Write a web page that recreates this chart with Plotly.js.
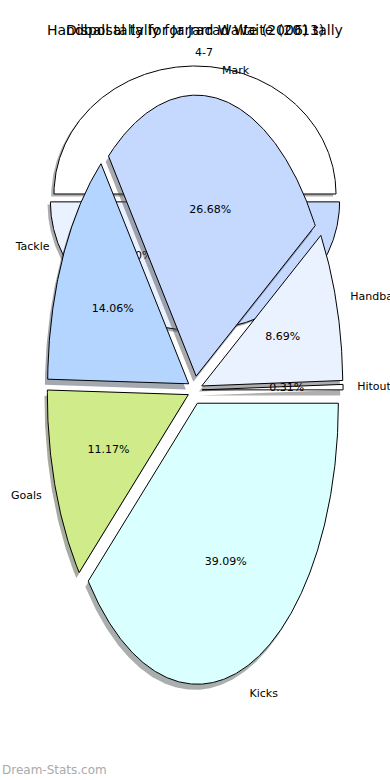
<!DOCTYPE html>
<html><head><meta charset="utf-8">
<script src="https://cdn.plot.ly/plotly-3.0.1.min.js"></script>
<style>html,body{margin:0;padding:0;background:#fff}</style>
</head><body><div id="chart" style="width:390px;height:780px"></div>
<script>
// ---- data ----
const titleHandball = "Handball tally for Jarrad Waite (2006) tally";
const titleDisposal = "Disposal tally for Jarrad Waite (2013)";
const tallyLabels = ["4-7", "0-3", "8-11"];
const tallyShares = [50, 25, 25];
const statLabels = ["Hitout", "Handball", "Mark", "Tackle", "Goals", "Kicks"];
const statShares = [0.31, 8.69, 26.68, 14.06, 11.17, 39.09];
const palette = ["#ffffff", "#eaf1ff", "#c5d9ff", "#b3d5ff", "#d0eb8a", "#d9ffff"];

// ---- helpers ----
function shade(hex) {
  const r = parseInt(hex.slice(1,3),16), g = parseInt(hex.slice(3,5),16), b = parseInt(hex.slice(5,7),16);
  return "rgba(" + Math.round(r*0.3) + "," + Math.round(g*0.3) + "," + Math.round(b*0.3) + ",0.45)";
}
function buildPie(labels, values, explode, xa, ya) {
  const total = values.reduce((a,b)=>a+b,0);
  const shadows = [], wedges = [];
  const pctX=[], pctY=[], pctT=[], labX=[], labY=[], labT=[], labPos=[];
  let t1 = 0;
  values.forEach((v,i)=>{
    const t2 = t1 + 360*v/total;
    const mid = (t1+t2)/2*Math.PI/180;
    const ox = explode*Math.cos(mid), oy = explode*Math.sin(mid);
    const xs=[ox], ys=[oy];
    const n = Math.max(2, Math.ceil((t2-t1)/0.5));
    for (let k=0;k<=n;k++){
      const a = (t1 + (t2-t1)*k/n)*Math.PI/180;
      xs.push(ox+Math.cos(a)); ys.push(oy+Math.sin(a));
    }
    xs.push(ox); ys.push(oy);
    shadows.push({type:'scatter', mode:'lines', x:xs.map(p=>p-0.02), y:ys.map(p=>p-0.02),
      fill:'toself', fillcolor:shade(palette[i]), line:{width:0, color:'rgba(0,0,0,0)'},
      xaxis:xa, yaxis:ya, hoverinfo:'skip', showlegend:false});
    wedges.push({type:'scatter', mode:'lines', x:xs, y:ys, fill:'toself', fillcolor:palette[i],
      line:{width:1, color:'#000'}, xaxis:xa, yaxis:ya, hoverinfo:'skip', showlegend:false});
    pctX.push(ox+0.6*Math.cos(mid)); pctY.push(oy+0.6*Math.sin(mid));
    pctT.push((100*v/total).toFixed(2)+"%");
    const lx = ox+1.1*Math.cos(mid), ly = oy+1.1*Math.sin(mid);
    labX.push(lx); labY.push(ly); labT.push(labels[i]);
    labPos.push(lx>0 ? 'middle right' : 'middle left');
    t1 = t2;
  });
  const font = {family:'DejaVu Sans', size:11, color:'#000'};
  const pct = {type:'scatter', mode:'text', x:pctX, y:pctY, text:pctT, textposition:'middle center',
    textfont:font, xaxis:xa, yaxis:ya, hoverinfo:'skip', showlegend:false, cliponaxis:false};
  const lab = {type:'scatter', mode:'text', x:labX, y:labY, text:labT, textposition:labPos,
    textfont:font, xaxis:xa, yaxis:ya, hoverinfo:'skip', showlegend:false, cliponaxis:false};
  return shadows.concat(wedges, [pct, lab]);
}

const W = 390, H = 780;
const rx = 141;
const c1y = 198.6, ry1 = 128;
const c2y = 390, ry2 = 281;

const traces = buildPie(tallyLabels, tallyShares, 0.036, 'x', 'y')
  .concat(buildPie(statLabels, statShares, 0.05, 'x2', 'y2'));

const ax = {visible:false, fixedrange:true, range:[-(W/2)/rx, (W/2)/rx], domain:[0,1]};
const tFont = {family:'DejaVu Sans', size:14, color:'#000'};
const layout = {
  width:W, height:H, margin:{l:0,r:0,t:0,b:0},
  paper_bgcolor:'#fff', plot_bgcolor:'rgba(0,0,0,0)', showlegend:false,
  xaxis:Object.assign({}, ax),
  yaxis:{visible:false, fixedrange:true, domain:[0,1], range:[-(H-c1y)/ry1, c1y/ry1]},
  xaxis2:Object.assign({overlaying:'x', anchor:'y2'}, ax),
  yaxis2:{visible:false, fixedrange:true, overlaying:'y', anchor:'x2', range:[-(H-c2y)/ry2, c2y/ry2]},
  annotations:[
    {text:titleHandball, xref:'paper', yref:'paper', x:0.5, y:1-30/H, xanchor:'center', yanchor:'middle',
      showarrow:false, font:tFont},
    {text:titleDisposal, xref:'paper', yref:'paper', x:0.5, y:1-30/H, xanchor:'center', yanchor:'middle',
      showarrow:false, font:tFont},
    {text:'Dream-Stats.com', xref:'paper', yref:'paper', x:0, y:1-770/H, xanchor:'left', yanchor:'middle',
      showarrow:false, font:{family:'DejaVu Sans', size:12, color:'#aaaaaa'}}
  ]
};
Plotly.newPlot('chart', traces, layout, {staticPlot:true, displayModeBar:false});
</script></body></html>
